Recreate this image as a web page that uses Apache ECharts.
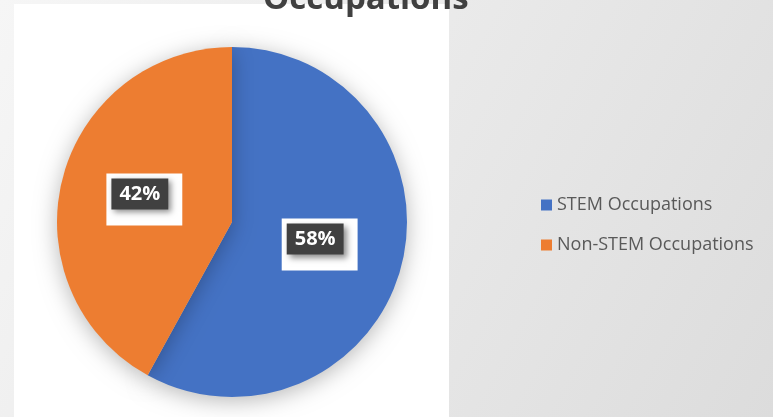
<!DOCTYPE html>
<html>
<head>
<meta charset="utf-8">
<script src="https://cdn.jsdelivr.net/npm/echarts@6/dist/echarts.min.js"></script>
<style>
  html, body { margin: 0; padding: 0; }
  #chart { width: 773px; height: 417px; }
</style>
</head>
<body>
<div id="chart"></div>
<script>
// chart data
const titleText = 'Occupations'
const categories = ['STEM Occupations', 'Non-STEM Occupations']
const values = [58, 42]
const colors = ['#4472C4', '#ED7D31']

const chart = echarts.init(document.getElementById('chart'))
chart.setOption({
  animation: false,
  graphic: [
    {
      type: 'rect',
      z: -10,
      shape: { x: 0, y: 0, width: 773, height: 417 },
      style: {
        fill: new echarts.graphic.LinearGradient(0, 0, 1, 1, [
          { offset: 0, color: '#f6f6f6' },
          { offset: 1, color: '#dcdcdc' }
        ])
      }
    },
    {
      type: 'rect',
      z: -9,
      shape: { x: 14, y: 4, width: 435, height: 413 },
      style: { fill: '#ffffff' }
    }
  ],
  title: {
    text: titleText,
    left: 258,
    top: -22,
    textStyle: {
      fontFamily: 'Open Sans',
      fontWeight: 'bold',
      fontSize: 33,
      color: '#404040'
    }
  },
  legend: {
    orient: 'vertical',
    left: 536,
    top: 191,
    itemWidth: 11,
    itemHeight: 11,
    itemGap: 22,
    icon: 'rect',
    data: categories,
    textStyle: {
      fontFamily: 'Open Sans',
      fontSize: 18,
      color: '#595959'
    }
  },
  series: [
    {
      type: 'pie',
      center: [232, 222],
      radius: 175,
      startAngle: 90,
      clockwise: true,
      silent: true,
      data: categories.map((name, i) => ({
        name: name,
        value: values[i],
        itemStyle: { color: colors[i] }
      })),
      itemStyle: {
        shadowBlur: 22,
        shadowColor: 'rgba(0,0,0,0.28)',
        shadowOffsetY: 4
      },
      labelLine: { show: false },
      label: {
        show: true,
        position: 'inside',
        formatter: '{v|{c}%}',
        backgroundColor: '#ffffff',
        padding: [5, 14, 16, 5],
        rich: {
          v: {
            fontFamily: 'Open Sans',
            fontWeight: 'bold',
            fontSize: 20,
            color: '#ffffff',
            backgroundColor: '#404040',
            padding: [6, 8, 5, 8],
            shadowBlur: 6,
            shadowColor: 'rgba(0,0,0,0.45)',
            shadowOffsetX: 3,
            shadowOffsetY: 3
          }
        }
      }
    }
  ]
})
</script>
</body>
</html>
